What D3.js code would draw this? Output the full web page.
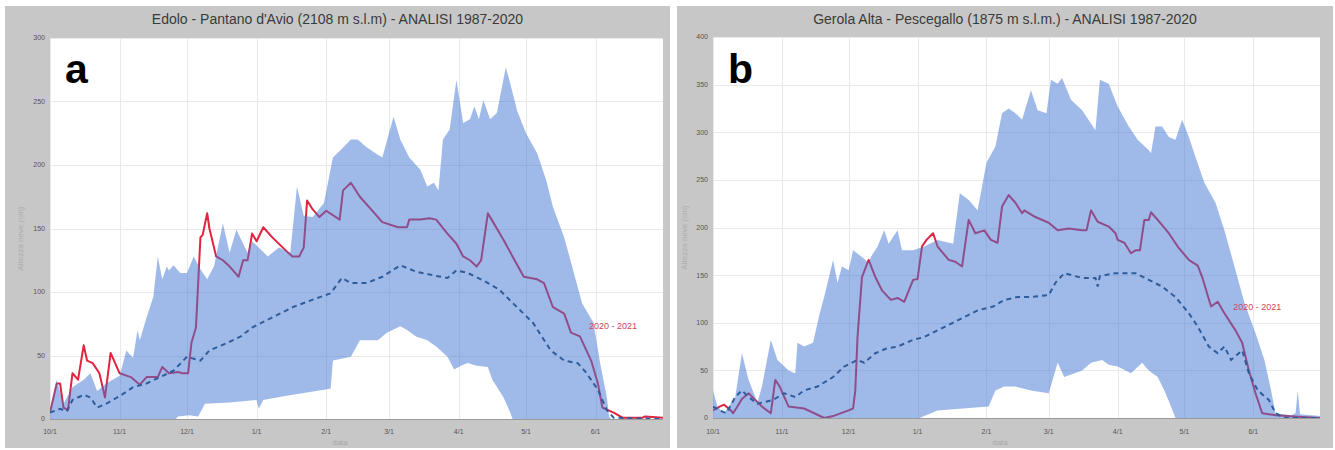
<!DOCTYPE html>
<html>
<head>
<meta charset="utf-8">
<script src="https://cdn.jsdelivr.net/npm/d3@7"></script>
<style>
  html, body { margin: 0; padding: 0; background: #ffffff; }
  svg { display: block; }
</style>
</head>
<body>
<svg id="chart" width="1335" height="450"></svg>
<script>
// ---- Season axis: 1 Oct 2020 -> 1 Jul 2021, values are [day of season, snow depth cm] ----
const seasonStart = Date.UTC(2020, 9, 1);
const seasonEnd = Date.UTC(2021, 6, 1);
const monthTickLabels = ["10/1", "11/1", "12/1", "1/1", "2/1", "3/1", "4/1", "5/1", "6/1"];
const seasonName = "2020 - 2021";
const yAxisTitle = "Altezza neve (cm)";
const xAxisTitle = "data";

// ---- Edolo - Pantano d'Avio ----
const edoloTitle = "Edolo - Pantano d'Avio (2108 m s.l.m) - ANALISI 1987-2020";
const edoloYTicks = [0, 50, 100, 150, 200, 250, 300];
const edoloMax = [[0,7],[3,31],[6,12],[10,25],[15,31],[18,36],[21,22],[25,28],[31,34],[34,54],[37,48],[39,70],[40,62],[43,80],[46,96],[48,128],[50,110],[52,120],[53,117],[55,121],[58,115],[61,115],[64,128],[67,118],[70,110],[73,120],[77,154],[80,131],[83,149],[88,131],[90,140],[97,128],[102,135],[107,131],[110,183],[113,160],[117,159],[122,170],[126,206],[129,211],[134,220],[137,220],[141,214],[146,208],[148,206],[153,238],[156,220],[160,206],[165,196],[168,183],[171,186],[173,180],[175,220],[178,228],[181,267],[184,233],[187,236],[189,246],[191,236],[193,251],[196,236],[199,241],[203,277],[205,264],[208,243],[212,225],[217,209],[221,188],[224,167],[229,143],[233,117],[237,91],[242,76],[245,44],[248,17],[249,2],[250,0],[273,0]];
const edoloMin = [[0,0],[56,0],[57,2],[62,3],[66,2],[69,12],[80,13],[92,15],[93,8],[95,15],[104,18],[122,23],[125,24],[126,46],[134,49],[138,62],[146,62],[150,68],[156,73],[159,70],[163,65],[168,62],[172,57],[177,49],[180,39],[183,42],[186,44],[190,42],[195,41],[197,31],[202,17],[205,5],[206,0],[273,0]];
const edoloMean = [[0,5],[4.5,8],[7.5,6],[10,15],[15,19],[18,17],[21,9],[25,12],[31,18],[37,25],[43,28],[49,33],[55,38],[61,49],[67,46],[71,54],[79,60],[85,65],[90,72],[99,80],[108,88],[117,94],[125,99],[130,111],[134,107],[141,107],[148,112],[156,121],[163,116],[171,113],[177,111],[181,117],[186,115],[193,109],[200,102],[208,88],[215,76],[223,54],[229,46],[235,44],[239,36],[244,23],[248,7],[251,1],[273,0]];
const edoloSeason = [[0,5],[3,28],[4.5,28],[6,9],[8,7],[10,36],[12.5,31],[15,58],[16.5,46],[19,44],[22,36],[24.5,17],[27,52],[31,36],[36,33],[40,27],[43,33],[48,33],[50,41],[53,36],[57,37],[59,36],[61.5,36],[63,60],[65,72],[67,143],[68,145],[70,162],[71,150],[74,128],[77,125],[80,120],[84,112],[86,125],[88,125],[90,146],[92,140],[95,151],[99,143],[106,131],[108,128],[111,128],[113,135],[114.5,172],[117,165],[120,159],[123,164],[129,157],[130.5,180],[134,186],[138,175],[143,165],[148,155],[155,151],[159,151],[160,157],[165,157],[169,158],[172,157],[177,146],[181,138],[184,128],[187,125],[190,120],[192,125],[195,162],[197,156],[202,141],[206,128],[211,112],[217,110],[220,107],[224,88],[229,83],[232,68],[236,65],[241,46],[244,28],[246,9],[251,5],[255,1],[264,1],[265,2],[273,1]];

// ---- Gerola Alta - Pescegallo ----
const gerolaTitle = "Gerola Alta - Pescegallo (1875 m s.l.m.) - ANALISI 1987-2020";
const gerolaYTicks = [0, 50, 100, 150, 200, 250, 300, 350, 400];
const gerolaMax = [[0,29],[2,12],[5,5],[10,22],[13,68],[16,40],[20,16],[22,33],[26,82],[29,61],[34,50],[37,47],[38,79],[41,75],[45,79],[48,110],[50,127],[54,166],[56,142],[58,159],[61,155],[63,176],[67,169],[70,163],[71,169],[74,180],[77,197],[79,183],[83,197],[85,176],[90,176],[95,180],[101,187],[108,183],[111,236],[115,229],[119,218],[123,268],[127,285],[130,320],[133,325],[136,320],[139,313],[143,344],[146,323],[150,320],[152,355],[155,351],[157,357],[161,334],[166,323],[172,302],[174,355],[178,351],[182,327],[187,306],[191,292],[196,281],[197,278],[199,306],[202,306],[205,295],[208,292],[211,313],[214,295],[217,274],[221,247],[226,226],[230,197],[235,155],[239,121],[244,89],[248,61],[251,29],[253,5],[260,3],[262,5],[263,29],[264,4],[273,2]];
const gerolaMin = [[0,0],[93,0],[94,1],[101,8],[124,12],[127,29],[131,33],[136,33],[143,29],[151,26],[155,58],[158,43],[166,50],[170,58],[175,61],[178,56],[182,54],[188,47],[193,58],[196,50],[200,43],[203,29],[206,12],[208,0],[273,0]];
const gerolaMean = [[0,12],[3,8],[6,5],[10,22],[13,29],[16,22],[20,15],[27,19],[32,26],[37,22],[41,29],[47,33],[54,43],[59,54],[65,61],[68,58],[73,68],[78,73],[83,75],[90,82],[95,85],[101,92],[108,100],[113,106],[119,113],[126,117],[131,124],[137,127],[143,127],[151,129],[154,142],[158,152],[166,147],[172,147],[173,138],[174,149],[181,152],[190,152],[196,145],[202,138],[208,127],[214,110],[218,96],[223,75],[227,68],[230,75],[233,61],[238,71],[241,47],[245,29],[250,19],[253,5],[257,0],[273,0]];
const gerolaSeason = [[0,8],[3,12],[5,14],[8,8],[9,5],[11,12],[13,20],[16,26],[19,19],[22,12],[26,5],[28,40],[30,33],[34,12],[41,10],[50,0],[54,2],[61,8],[63,10],[64,29],[65,85],[67,148],[70,166],[73,148],[76,134],[80,124],[83,126],[86,122],[90,145],[92,146],[94,180],[96,187],[99,194],[101,180],[106,166],[109,164],[112,159],[115,208],[118,194],[122,197],[125,187],[128,184],[130,222],[133,234],[136,226],[139,215],[140,218],[145,211],[151,205],[155,197],[160,199],[166,197],[168,197],[170,218],[173,206],[178,201],[181,194],[182,187],[185,184],[188,173],[190,176],[192,176],[194,208],[196,208],[197,216],[200,208],[205,194],[209,180],[214,166],[218,160],[220,148],[224,117],[227,122],[230,110],[235,92],[238,79],[241,50],[244,26],[247,5],[253,3],[265,1],[273,0]];

// ---- Panel layout ----
const panels = [
  { letter: "a", title: edoloTitle, yTicks: edoloYTicks, max: edoloMax, min: edoloMin, mean: edoloMean, season: edoloSeason,
    box: { x: 5, y: 6, w: 665, h: 442 }, plot: { x0: 50, x1: 663, y0: 38, y1: 419 },
    seasonLabelAt: [240, 73], yTitleX: 23, xTitleX: 340 },
  { letter: "b", title: gerolaTitle, yTicks: gerolaYTicks, max: gerolaMax, min: gerolaMin, mean: gerolaMean, season: gerolaSeason,
    box: { x: 677, y: 6, w: 656, h: 442 }, plot: { x0: 713, x1: 1320, y0: 37, y1: 418 },
    seasonLabelAt: [234, 117], yTitleX: 687, xTitleX: 1000 }
];

const svg = d3.select("#chart");
const dayToDate = d => new Date(seasonStart + d * 864e5);
const monthTicks = d3.utcMonth.range(new Date(seasonStart), new Date(seasonEnd));

panels.forEach((p, i) => {
  const g = svg.append("g");
  const x = d3.scaleUtc().domain([new Date(seasonStart), new Date(seasonEnd)]).range([p.plot.x0, p.plot.x1]);
  const y = d3.scaleLinear().domain([0, p.yTicks[p.yTicks.length - 1]]).range([p.plot.y1, p.plot.y0]);

  // grey frame and white plotting area
  g.append("rect").attr("x", p.box.x).attr("y", p.box.y).attr("width", p.box.w).attr("height", p.box.h).attr("fill", "#c7c7c7");
  g.append("rect").attr("x", p.plot.x0).attr("y", p.plot.y0)
    .attr("width", p.plot.x1 - p.plot.x0).attr("height", p.plot.y1 - p.plot.y0).attr("fill", "#ffffff");

  // title
  g.append("text")
    .attr("x", p.box.x + p.box.w / 2).attr("y", 24)
    .attr("text-anchor", "middle")
    .attr("font-family", "'Liberation Sans Narrow', 'Liberation Sans', Arial, sans-serif")
    .attr("font-size", 14).attr("fill", "#3a3a3a")
    .text(p.title);

  // grid
  const grid = g.append("g").attr("stroke", "#e9e9e9").attr("stroke-width", 1);
  grid.selectAll("line.h").data(p.yTicks).join("line")
    .attr("x1", p.plot.x0).attr("x2", p.plot.x1)
    .attr("y1", d => Math.round(y(d)) + 0.5).attr("y2", d => Math.round(y(d)) + 0.5);
  grid.selectAll("line.v").data(monthTicks).join("line")
    .attr("x1", d => Math.round(x(d)) + 0.5).attr("x2", d => Math.round(x(d)) + 0.5)
    .attr("y1", p.plot.y0).attr("y2", p.plot.y1);

  const clipId = "clip-" + p.letter;
  svg.append("clipPath").attr("id", clipId).append("rect")
    .attr("x", p.plot.x0).attr("y", p.plot.y0 - 1)
    .attr("width", p.plot.x1 - p.plot.x0).attr("height", p.plot.y1 - p.plot.y0 + 1);
  const plot = g.append("g").attr("clip-path", `url(#${clipId})`);

  const line = d3.line().x(d => x(dayToDate(d[0]))).y(d => y(d[1]));

  // current season (drawn under the translucent historical range)
  plot.append("path").datum(p.season)
    .attr("d", line).attr("fill", "none")
    .attr("stroke", "#e0243f").attr("stroke-width", 2).attr("stroke-linejoin", "round");

  // 1987-2020 min-max range
  const bandPts = p.max.concat(p.min.slice().reverse());
  plot.append("path").datum(bandPts)
    .attr("d", d => line(d) + "Z")
    .attr("fill", "rgb(64,118,211)").attr("fill-opacity", 0.5).attr("stroke", "none");

  // 1987-2020 mean
  plot.append("path").datum(p.mean)
    .attr("d", line).attr("fill", "none")
    .attr("stroke", "#2f5c9c").attr("stroke-width", 2).attr("stroke-dasharray", "5,4");

  // bottom axis line
  g.append("line").attr("x1", p.plot.x0).attr("x2", p.plot.x1)
    .attr("y1", p.plot.y1 + 0.5).attr("y2", p.plot.y1 + 0.5).attr("stroke", "#9a9a9a");

  // season label
  g.append("text")
    .attr("x", x(dayToDate(p.seasonLabelAt[0]))).attr("y", y(p.seasonLabelAt[1]))
    .attr("dy", "0.35em")
    .attr("font-family", "'Liberation Sans Narrow', Arial, sans-serif")
    .attr("font-size", 9).attr("fill", "#d2455a")
    .text(seasonName);

  // panel letter
  g.append("text")
    .attr("x", p.plot.x0 + 15).attr("y", 83)
    .attr("font-family", "'Liberation Sans', Arial, sans-serif")
    .attr("font-weight", "bold").attr("font-size", 41).attr("fill", "#000")
    .text(p.letter);

  // y tick labels
  g.selectAll("text.yt").data(p.yTicks).join("text")
    .attr("x", p.plot.x0 - 5).attr("y", d => y(d)).attr("dy", "0.35em")
    .attr("text-anchor", "end")
    .attr("font-family", "'Liberation Sans', Arial, sans-serif")
    .attr("font-size", 7).attr("fill", "#555")
    .text(d => d);

  // x tick labels
  g.selectAll("text.xt").data(monthTicks).join("text")
    .attr("x", d => x(d)).attr("y", 434)
    .attr("text-anchor", "middle")
    .attr("font-family", "'Liberation Sans', Arial, sans-serif")
    .attr("font-size", 7).attr("fill", "#555")
    .text((d, k) => monthTickLabels[k]);

  // axis titles
  g.append("text")
    .attr("x", p.xTitleX).attr("y", 445).attr("text-anchor", "middle")
    .attr("font-family", "'Liberation Sans', Arial, sans-serif")
    .attr("font-size", 8).attr("fill", "#a8a8a8")
    .text(xAxisTitle);
  g.append("text")
    .attr("transform", `translate(${p.yTitleX},${(p.plot.y0 + p.plot.y1) / 2 + 10}) rotate(-90)`)
    .attr("text-anchor", "middle")
    .attr("font-family", "'Liberation Sans', Arial, sans-serif")
    .attr("font-size", 8).attr("fill", "#adadad")
    .text(yAxisTitle);
});
</script>
</body>
</html>
